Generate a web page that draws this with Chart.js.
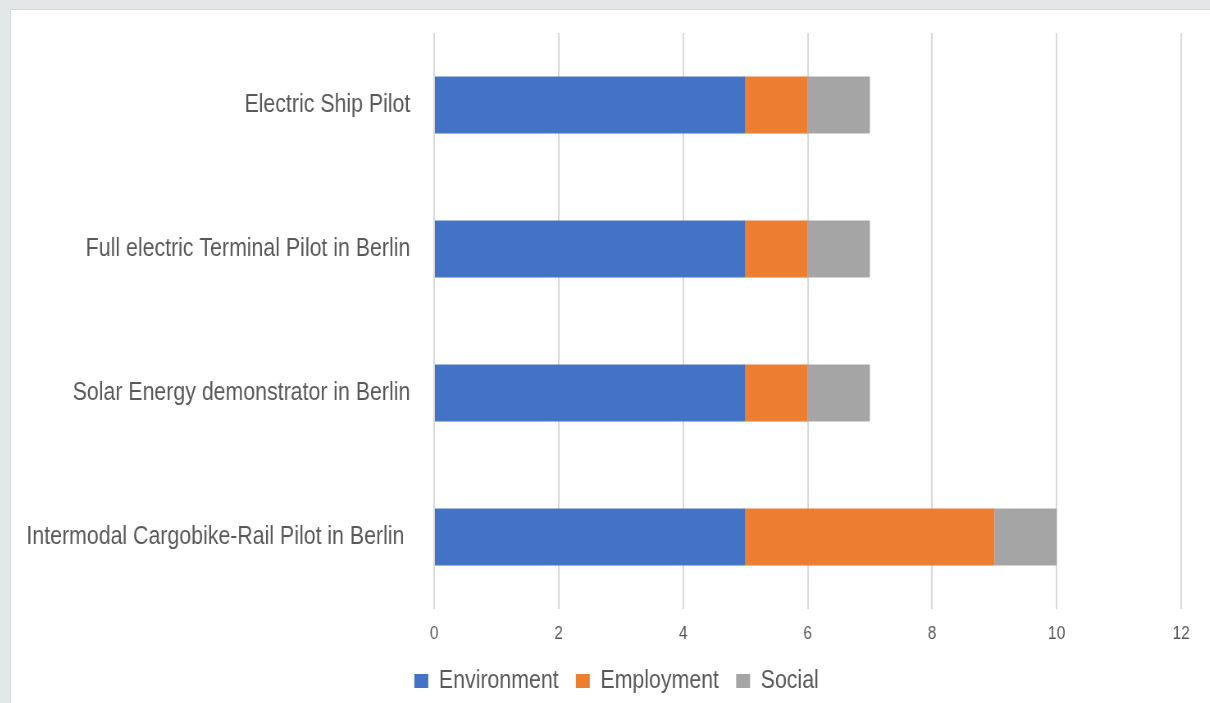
<!DOCTYPE html>
<html>
<head>
<meta charset="utf-8">
<script src="https://cdn.jsdelivr.net/npm/chart.js@4"></script>
<style>
  html, body { margin: 0; padding: 0; overflow: hidden; background: #e4e7e8; }
  #panel {
    position: absolute; left: 10px; top: 9px;
    width: 1210px; height: 740px; overflow: hidden;
    background: #fff; border-left: 1px solid #d6d9da; border-top: 1px solid #d6d9da;
  }
  /* the reference text is condensed, so the whole chart is drawn wider and squeezed */
  #wrap {
    position: absolute; left: 0; top: 0; width: 1462px; height: 694px;
    transform: scaleX(0.82); transform-origin: 0 0;
  }
</style>
</head>
<body>
<div id="panel"><div id="wrap"><canvas id="chart"></canvas></div></div>
<script>
// categories, top to bottom
const projects = [
  'Electric Ship Pilot',
  'Full electric Terminal Pilot in Berlin',
  'Solar Energy demonstrator in Berlin',
  'Intermodal Cargobike-Rail Pilot in Berlin '
];
const environment = [5, 5, 5, 5];
const employment = [1, 1, 1, 4];
const social = [1, 1, 1, 1];
const xTicks = [0, 2, 4, 6, 8, 10, 12];

const textColor = '#595959';
Chart.defaults.font.family = "'Liberation Sans', Arial, sans-serif";
Chart.defaults.color = textColor;

// nudge the legend row to the right, it sits a bit off-centre in the original
const legendShift = {
  id: 'legendShift',
  afterLayout(chart) {
    chart.legend.left += 25;
    chart.legend.right += 25;
  }
};

const ctx = document.getElementById('chart').getContext('2d');
const chart = new Chart(ctx, {
  type: 'bar',
  data: {
    labels: projects,
    datasets: [
      { label: 'Environment', data: environment, backgroundColor: '#4472C4' },
      { label: 'Employment', data: employment, backgroundColor: '#ED7D31' },
      { label: 'Social', data: social, backgroundColor: '#A5A5A5' }
    ]
  },
  plugins: [legendShift],
  options: {
    indexAxis: 'y',
    responsive: true,
    maintainAspectRatio: false,
    animation: false,
    datasets: { bar: { categoryPercentage: 1, barPercentage: 0.396 } },
    layout: { padding: { top: 23, right: 35, left: 0, bottom: 0 } },
    scales: {
      x: {
        stacked: true,
        min: 0,
        max: 12,
        afterBuildTicks: (scale) => { scale.ticks = xTicks.map(v => ({ value: v })); },
        afterFit: (scale) => { scale.height = 38; },
        ticks: { padding: 13, font: { size: 19 }, color: textColor },
        grid: { color: '#d9d9d9', lineWidth: 2, drawTicks: false },
        border: { display: false }
      },
      y: {
        stacked: true,
        afterFit: (scale) => { scale.width = 516; },
        ticks: { padding: 0, font: { size: 26 }, color: textColor },
        // grid hidden, tick length only used as the gap before the labels
        grid: { display: false, drawTicks: true, tickLength: 29 },
        border: { display: false }
      }
    },
    plugins: {
      legend: {
        position: 'bottom',
        labels: { boxWidth: 17, boxHeight: 14, padding: 21, font: { size: 26 }, color: textColor }
      },
      tooltip: { enabled: false }
    }
  }
});
</script>
</body>
</html>
